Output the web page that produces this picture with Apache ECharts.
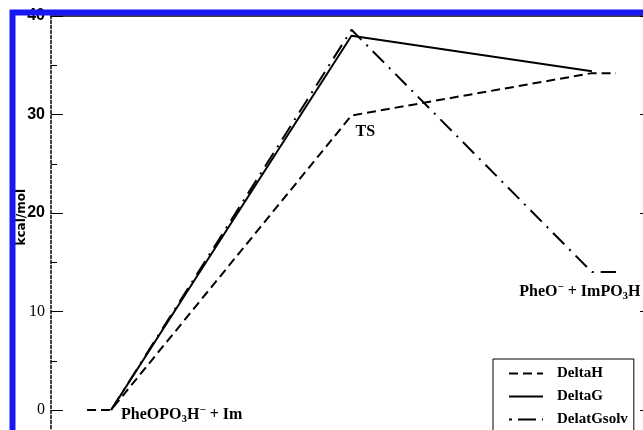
<!DOCTYPE html>
<html>
<head>
<meta charset="utf-8">
<script src="https://cdn.jsdelivr.net/npm/echarts@6/dist/echarts.min.js"></script>
<style>
  html, body { margin: 0; padding: 0; background: #fff; overflow: hidden; }
  #chart { width: 660px; height: 520px; }
</style>
</head>
<body>
<div id="chart"></div>
<script>
// Reaction energy profile (kcal/mol) along the reaction coordinate:
// reactant level, transition state, product level.
const seriesNames = ['DeltaH', 'DeltaG', 'DelatGsolv'];
const deltaH = [[0.9, 0], [1.0, 0], [2.0, 29.9], [3.0, 34.2], [3.1, 34.2]];
const deltaG = [[1.0, 0], [2.0, 38.0], [3.0, 34.4]];
const deltaGsolv = [[1.0, 0], [2.0, 38.6], [3.0, 14.0], [3.1, 14.0]];
const yTicks = { min: -10, max: 40, step: 10 };
const xRange = { min: 0.75, max: 3.25 };

// state annotations: [x, y, rich text]
const annotations = [
  { coord: [1.0, 0], text: '{m|PheOPO}{sub|3}{m|H}{sup|\u2212}{m| + Im}' },
  { coord: [2.0, 29.9], text: '{m|TS}' },
  { coord: [3.0, 14.0], text: '{m|PheO}{sup|\u2212}{m| + ImPO}{sub|3}{m|H}' }
];

const richText = {
  m: { fontFamily: 'Liberation Serif', fontWeight: 'bold', fontSize: 16, lineHeight: 20, color: '#000' },
  sub: { fontFamily: 'Liberation Serif', fontWeight: 'bold', fontSize: 11, lineHeight: 11, verticalAlign: 'bottom', color: '#000' },
  sup: { fontFamily: 'Liberation Serif', fontWeight: 'bold', fontSize: 11, lineHeight: 11, verticalAlign: 'top', color: '#000' }
};

const labelOffsets = [
  { position: [10, 5], align: 'left' },
  { position: [4, 16], align: 'left' },
  { position: [-12, 20], align: 'center' }
];

const dashPatterns = {
  DeltaH: [9, 5],
  DeltaG: 'solid',
  DelatGsolv: [16, 7, 2, 7]
};

const chart = echarts.init(document.getElementById('chart'), null, { renderer: 'canvas' });

function lineSeries(name, data) {
  return {
    name: name,
    type: 'line',
    data: data,
    symbol: 'none',
    showSymbol: false,
    color: '#000',
    lineStyle: { color: '#000', width: 2, type: dashPatterns[name] },
    z: 3
  };
}

const series = [
  lineSeries(seriesNames[0], deltaH),
  lineSeries(seriesNames[1], deltaG),
  lineSeries(seriesNames[2], deltaGsolv)
];

series[0].markPoint = {
  symbol: 'circle',
  symbolSize: 0,
  silent: true,
  itemStyle: { color: 'transparent' },
  data: annotations.map((a, i) => ({
    coord: a.coord,
    label: {
      show: true,
      formatter: a.text,
      rich: richText,
      position: labelOffsets[i].position,
      align: labelOffsets[i].align,
      verticalAlign: 'middle'
    }
  }))
};

const option = {
  animation: false,
  backgroundColor: '#fff',
  grid: { left: 51, top: 16, right: 8, bottom: 11.5 },
  xAxis: [
    {
      type: 'value', min: xRange.min, max: xRange.max, position: 'bottom',
      axisLine: { show: true, onZero: false, lineStyle: { color: '#000' } },
      axisTick: { show: false }, axisLabel: { show: false }, splitLine: { show: false }
    },
    {
      type: 'value', min: xRange.min, max: xRange.max, position: 'top',
      axisLine: { show: true, onZero: false, lineStyle: { color: '#000', width: 1.5 } },
      axisTick: { show: false }, axisLabel: { show: false }, splitLine: { show: false }
    }
  ],
  yAxis: [
    {
      type: 'value', min: yTicks.min, max: yTicks.max, interval: yTicks.step, position: 'left',
      axisLine: { show: true, onZero: false, lineStyle: { color: '#000', width: 1.5, type: [3, 2] } },
      axisTick: { show: true, inside: true, length: 12, lineStyle: { color: '#000' } },
      minorTick: { show: true, splitNumber: 2, length: 6, lineStyle: { color: '#000' } },
      splitLine: { show: false },
      axisLabel: {
        margin: 6,
        formatter: v => (v >= 20 ? '{b|' + v + '}' : '{s|' + v + '}'),
        rich: {
          b: { fontFamily: 'Liberation Sans', fontWeight: 'bold', fontSize: 16, color: '#000' },
          s: { fontFamily: 'Liberation Serif', fontSize: 16, color: '#000' }
        }
      }
    },
    {
      type: 'value', min: yTicks.min, max: yTicks.max, interval: yTicks.step, position: 'right',
      axisLine: { show: true, onZero: false, lineStyle: { color: '#000' } },
      axisTick: { show: true, inside: true, length: 12, lineStyle: { color: '#000' } },
      minorTick: { show: true, splitNumber: 2, length: 6, lineStyle: { color: '#000' } },
      splitLine: { show: false },
      axisLabel: { show: false }
    }
  ],
  legend: {
    orient: 'vertical',
    left: 493, top: 359,
    data: [
      { name: 'DeltaH' },
      { name: 'DeltaG' },
      { name: 'DelatGsolv', lineStyle: { type: [3, 6, 18, 6] } }
    ],
    itemWidth: 34, itemHeight: 14, itemGap: 8,
    padding: [7, 6, 7, 15],
    borderColor: '#000', borderWidth: 1,
    backgroundColor: '#fff',
    itemStyle: { opacity: 0 },
    textStyle: { fontFamily: 'Liberation Serif', fontWeight: 'bold', fontSize: 15, color: '#000', padding: [0, 0, 0, 9] }
  },
  graphic: [
    {
      type: 'text', left: 16, top: 189, rotation: Math.PI / 2, z: 50,
      style: { text: 'kcal/mol', fontFamily: 'DejaVu Sans', fontWeight: 'bold', fontSize: 12, fill: '#000' }
    },
    {
      type: 'rect', z: 100, silent: true,
      shape: { x: 12.5, y: 12.5, width: 700, height: 600 },
      style: { fill: 'none', stroke: '#1717f2', lineWidth: 6 }
    }
  ],
  series: series
};

chart.setOption(option);
</script>
</body>
</html>
